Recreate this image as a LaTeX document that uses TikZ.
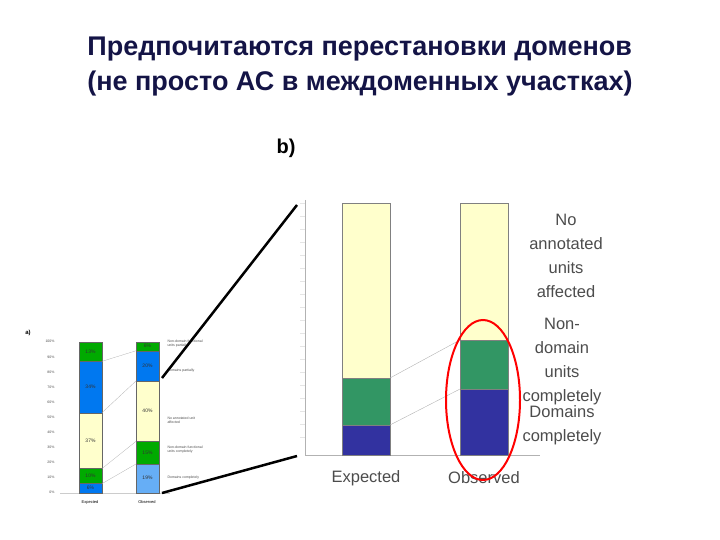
\documentclass[tikz,border=0pt]{standalone}
\usepackage{fontspec}
\setmainfont{Liberation Sans}
\usetikzlibrary{patterns}
\definecolor{cy}{RGB}{255,255,204}
\definecolor{cg}{RGB}{0,170,0}
\definecolor{cb}{RGB}{0,120,240}
\definecolor{dg}{RGB}{50,150,100}
\definecolor{dn}{RGB}{50,50,160}
\definecolor{tt}{RGB}{20,20,70}
\begin{document}
\begin{tikzpicture}[x=1pt,y=-1pt,
 seg/.style={draw=black!60,line width=0.3pt},
 tiny/.style={font=\fontsize{3.5}{4}\selectfont,align=left,anchor=west,text=black!70},
 lab/.style={font=\fontsize{16.5}{24}\selectfont,align=center,text=black!70},
 conn/.style={draw=black!30,line width=0.4pt},
 blk/.style={line width=2.5pt,black}]
\useasboundingbox (0,0) rectangle (720,540);
\node[font=\fontsize{27}{35}\selectfont\bfseries,text=tt,align=left] (t) at (360,67) {Предпочитаются перестановки доменов\\(не просто АС в междоменных участках)};
\node[font=\fontsize{20}{22}\selectfont\bfseries] (b) at (286,148) {b)};
% right chart
\foreach \yy in {203,216,229,242,255,268,281,294,307,320,333,346,359,372,385,398,411,424,437}
  \draw[black!10] (305,\yy) -- (300,\yy);
\draw[black!30] (305,200) -- (305,455) -- (540,455);
\draw[fill=cy,draw=black!50] (342,203) rectangle (390,378);
\draw[fill=dg,draw=black!50] (342,378) rectangle (390,425);
\draw[fill=dn,draw=black!50] (342,425) rectangle (390,455);
\draw[fill=cy,draw=black!50] (460,203) rectangle (508,340);
\draw[fill=dg,draw=black!50] (460,340) rectangle (508,389);
\draw[fill=dn,draw=black!50] (460,389) rectangle (508,455);
\coordinate (e1) at (390,378); \coordinate (o1) at (460,340);
\coordinate (e2) at (390,425); \coordinate (o2) at (460,389);
\draw[conn] (e1) -- (o1); \draw[conn] (e2) -- (o2);
\node[lab] (x1) at (366,478) {Expected};
\node[lab] (x2) at (484,478) {Observed};
\node[lab] (l1) at (566,256) {No\\annotated\\units\\affected};
\node[lab] (l2) at (562,362) {Non-\\domain\\units\\completely};
\node[lab] (l3) at (562,425) {Domains\\completely};
\draw[red,line width=2pt] (483,400) ellipse [x radius=37,y radius=80];
% left chart
\node[font=\fontsize{6}{7}\selectfont\bfseries] (a) at (28,333) {a)};
\foreach \p in {0,10,...,100}
  \node[font=\fontsize{3.5}{4}\selectfont,anchor=east,text=black!70] at (58,{492.7-1.51*\p}) {\p\%};
\draw[black!20] (60,492.7) -- (170,492.7);
\newcommand{\mseg}[5]{\draw[seg,fill=#1] (#2,{492.7-1.51*#3}) rectangle (#2+23,{492.7-1.51*#4}); \node[font=\fontsize{5}{5}\selectfont,text=black!80] at (#2+11.5,{492.7-0.755*(#3+#4)}) {#5};}
\mseg{cb}{79}{0}{6}{6\%}
\mseg{cg}{79}{6}{16}{10\%}
\mseg{cy}{79}{16}{53}{37\%}
\mseg{cb}{79}{53}{87}{34\%}
\mseg{cg}{79}{87}{100}{13\%}
\draw[seg,pattern=crosshatch dots,pattern color=cb,fill=cb!60] (136,492.7) rectangle (159,{492.7-1.51*19});
\node[font=\fontsize{5}{5}\selectfont,text=black!80] at (147.5,478) {19\%};
\mseg{cg}{136}{19}{34}{15\%}
\mseg{cy}{136}{34}{74}{40\%}
\mseg{cb}{136}{74}{94}{20\%}
\mseg{cg}{136}{94}{100}{6\%}
\foreach \a/\b in {6/19,16/34,53/74,87/94}
  \draw[black!30,line width=0.3pt] (102,{492.7-1.51*\a}) -- (136,{492.7-1.51*\b});
\node[font=\fontsize{4}{5}\selectfont] at (90,502) {Expected};
\node[font=\fontsize{4}{5}\selectfont] at (147,502) {Observed};
\node[tiny] at (164,344) {Non-domain functional\\units partially};
\node[tiny] at (164,371) {Domains partially};
\node[tiny] at (164,420) {No annotated unit\\affected};
\node[tiny] at (164,450) {Non-domain functional\\units completely};
\node[tiny] at (164,478) {Domains completely};
\coordinate (p1) at (297,205); \coordinate (q1) at (162,378);
\coordinate (p2) at (297,456); \coordinate (q2) at (162,493);
\draw[blk] (p1) -- (q1); \draw[blk] (p2) -- (q2);
\end{tikzpicture}
\end{document}
